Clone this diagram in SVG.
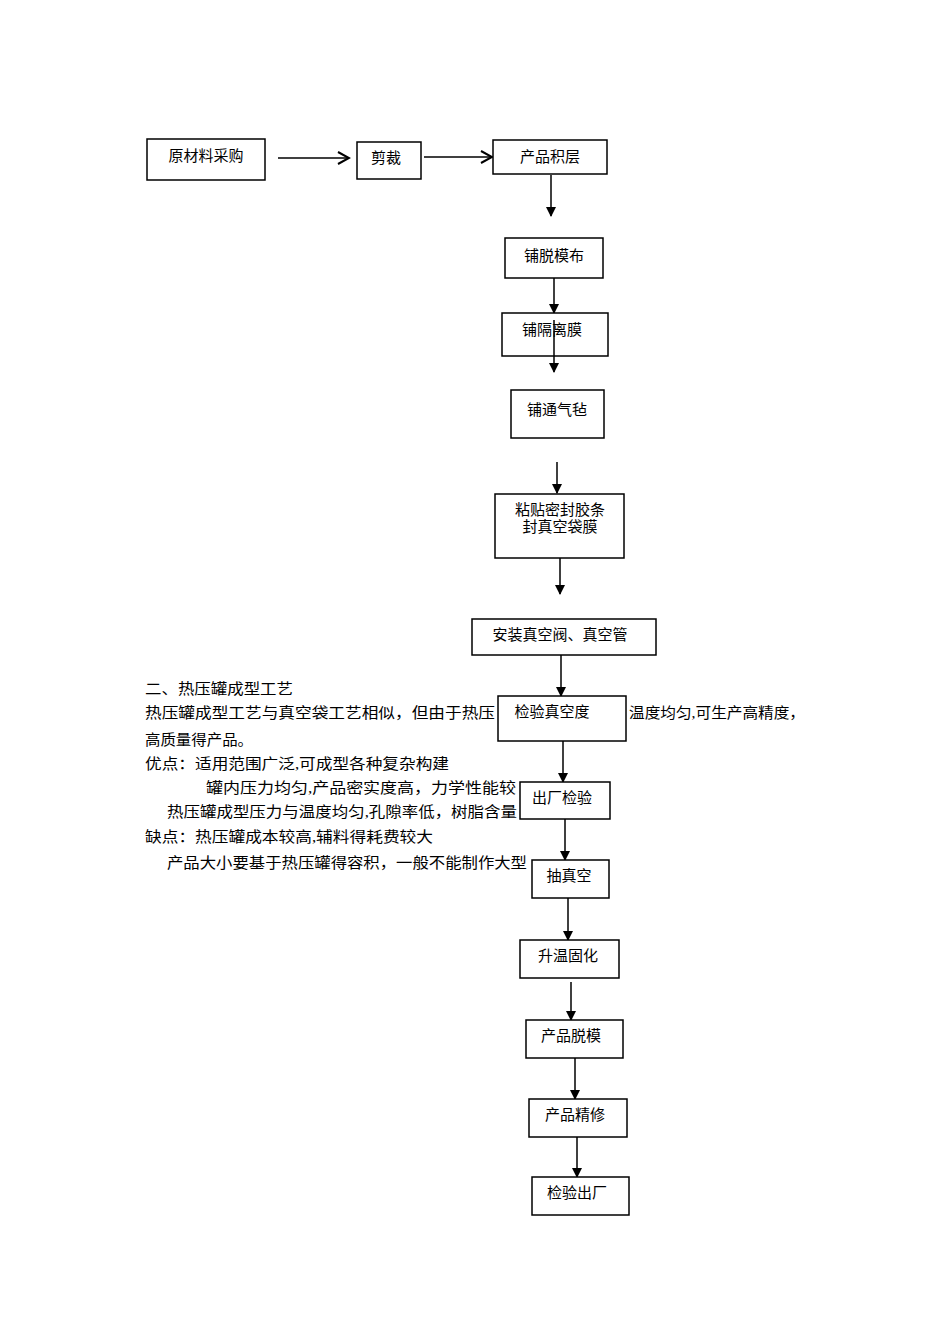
<svg xmlns="http://www.w3.org/2000/svg" width="950" height="1344" viewBox="0 0 950 1344">
<style>
text{font-family:"Liberation Serif","Noto Sans CJK SC",serif;font-size:15px;fill:#000}
.b{fill:#fff;stroke:#000;stroke-width:1.5}
.c{stroke:#000;stroke-width:1.5;fill:none}
.m{text-anchor:middle}
</style>
<defs>
<marker id="a" markerWidth="10" markerHeight="10" refX="9" refY="5" orient="auto" markerUnits="userSpaceOnUse"><path d="M0,0 L10,5 L0,10 Z" fill="#000"/></marker>
<marker id="o" markerWidth="14" markerHeight="14" refX="12" refY="7" orient="auto" markerUnits="userSpaceOnUse"><path d="M1,1 L12,7 L1,13" fill="none" stroke="#000" stroke-width="2"/></marker>
</defs>
<g id="text">
<text x="145" y="694" textLength="148" lengthAdjust="spacingAndGlyphs">二、热压罐成型工艺</text>
<text x="145" y="718" textLength="350" lengthAdjust="spacingAndGlyphs">热压罐成型工艺与真空袋工艺相似，但由于热压</text>
<text x="629" y="718" textLength="176" lengthAdjust="spacingAndGlyphs">温度均匀,可生产高精度，</text>
<text x="145" y="745" textLength="108" lengthAdjust="spacingAndGlyphs">高质量得产品。</text>
<text x="145" y="769" textLength="304" lengthAdjust="spacingAndGlyphs">优点：适用范围广泛,可成型各种复杂构建</text>
<text x="206" y="793" textLength="310" lengthAdjust="spacingAndGlyphs">罐内压力均匀,产品密实度高，力学性能较</text>
<text x="167" y="817" textLength="350" lengthAdjust="spacingAndGlyphs">热压罐成型压力与温度均匀,孔隙率低，树脂含量</text>
<text x="145" y="842" textLength="288" lengthAdjust="spacingAndGlyphs">缺点：热压罐成本较高,辅料得耗费较大</text>
<text x="167" y="868" textLength="360" lengthAdjust="spacingAndGlyphs">产品大小要基于热压罐得容积，一般不能制作大型</text>
</g>
<g id="connectors">
<line class="c" x1="278" y1="158" x2="349" y2="158" marker-end="url(#o)"/>
<line class="c" x1="424" y1="157" x2="492" y2="157" marker-end="url(#o)"/>
<line class="c" x1="551" y1="175" x2="551" y2="216" marker-end="url(#a)"/>
<line class="c" x1="554" y1="272" x2="554" y2="313" marker-end="url(#a)"/>
<line class="c" x1="557" y1="462" x2="557" y2="493" marker-end="url(#a)"/>
<line class="c" x1="560" y1="558" x2="560" y2="594" marker-end="url(#a)"/>
<line class="c" x1="561" y1="655" x2="561" y2="696" marker-end="url(#a)"/>
<line class="c" x1="563" y1="741" x2="563" y2="782" marker-end="url(#a)"/>
<line class="c" x1="565" y1="819" x2="565" y2="860" marker-end="url(#a)"/>
<line class="c" x1="568" y1="898" x2="568" y2="940" marker-end="url(#a)"/>
<line class="c" x1="571" y1="982" x2="571" y2="1020" marker-end="url(#a)"/>
<line class="c" x1="575" y1="1058" x2="575" y2="1099" marker-end="url(#a)"/>
<line class="c" x1="577" y1="1137" x2="577" y2="1177" marker-end="url(#a)"/>
</g>
<g id="n1"><rect class="b" x="147" y="139" width="118" height="41"/><text class="m" x="206" y="161">原材料采购</text></g>
<g id="n2"><rect class="b" x="357" y="142" width="64" height="37"/><text class="m" x="386" y="163">剪裁</text></g>
<g id="n3"><rect class="b" x="493" y="140" width="114" height="34"/><text class="m" x="550" y="162">产品积层</text></g>
<g id="n4"><rect class="b" x="505" y="238" width="98" height="40"/><text class="m" x="554" y="261">铺脱模布</text></g>
<g id="n5"><rect class="b" x="502" y="313" width="106" height="43"/><text class="m" x="552" y="335">铺隔离膜</text></g>
<line class="c" x1="554" y1="320" x2="554" y2="372" marker-end="url(#a)"/>
<g id="n6"><rect class="b" x="511" y="390" width="93" height="48"/><text class="m" x="557" y="415">铺通气毡</text></g>
<g id="n7"><rect class="b" x="495" y="494" width="129" height="64"/><text class="m" x="560" y="515">粘贴密封胶条</text><text class="m" x="560" y="532">封真空袋膜</text></g>
<g id="n8"><rect class="b" x="472" y="619" width="184" height="36"/><text class="m" x="560" y="640">安装真空阀、真空管</text></g>
<g id="n9"><rect class="b" x="498" y="696" width="128" height="45"/><text class="m" x="552" y="717">检验真空度</text></g>
<g id="n10"><rect class="b" x="520" y="782" width="90" height="37"/><text class="m" x="562" y="803">出厂检验</text></g>
<g id="n11"><rect class="b" x="532" y="860" width="77" height="38"/><text class="m" x="569" y="881">抽真空</text></g>
<g id="n12"><rect class="b" x="520" y="940" width="99" height="38"/><text class="m" x="568" y="961">升温固化</text></g>
<g id="n13"><rect class="b" x="526" y="1020" width="97" height="38"/><text class="m" x="571" y="1041">产品脱模</text></g>
<g id="n14"><rect class="b" x="529" y="1099" width="98" height="38"/><text class="m" x="575" y="1120">产品精修</text></g>
<g id="n15"><rect class="b" x="532" y="1177" width="97" height="38"/><text class="m" x="577" y="1198">检验出厂</text></g>
</svg>
